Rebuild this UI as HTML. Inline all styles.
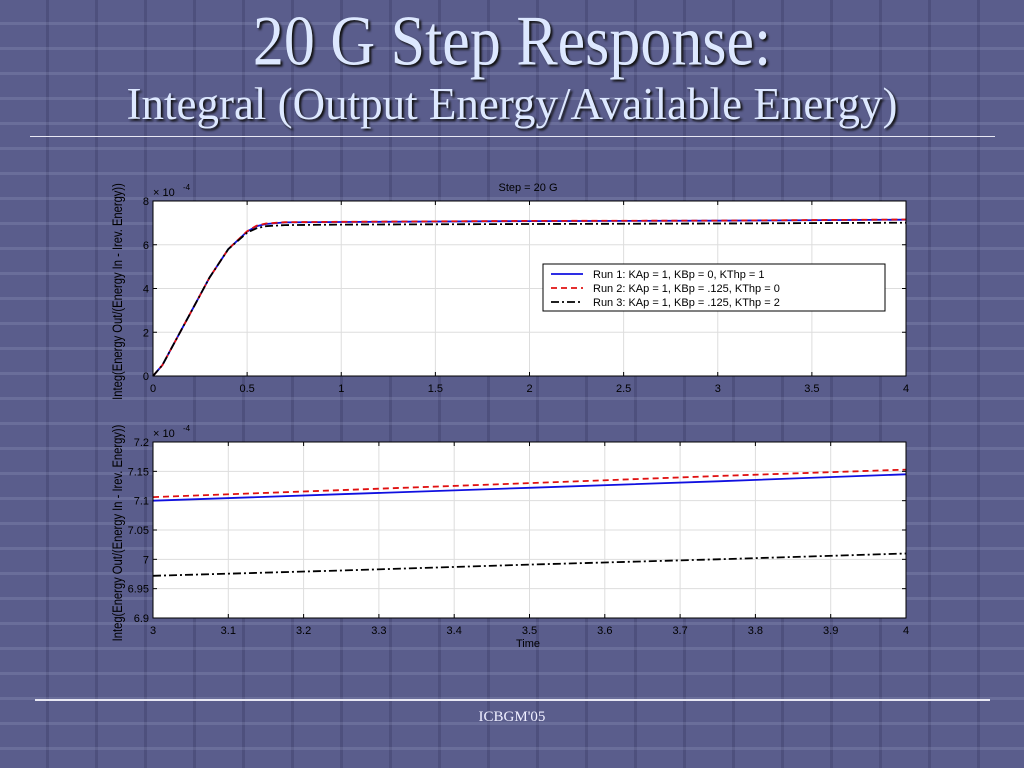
<!DOCTYPE html>
<html><head><meta charset="utf-8">
<style>
html,body{margin:0;padding:0}
body{width:1024px;height:768px;overflow:hidden;position:relative;
background:#5a5d8c;
font-family:"Liberation Sans",sans-serif}
.bg{position:absolute;inset:0;
background:
repeating-linear-gradient(180deg,rgba(255,255,255,0) 0 22px,rgba(180,185,220,0.18) 22px 25px),
repeating-linear-gradient(90deg,rgba(255,255,255,0) 0 46px,rgba(40,42,80,0.25) 46px 49px);}
.t1{position:absolute;left:0;width:1024px;top:0px;text-align:center;font-family:"Liberation Serif",serif;font-size:62px;line-height:72px;color:#dde8ff;text-shadow:2px 2px 2px #111;transform:scaleY(1.15);transform-origin:50% 0}
.t2{position:absolute;left:0;width:1024px;top:78px;text-align:center;font-family:"Liberation Serif",serif;font-size:45px;line-height:52px;color:#dde8ff;text-shadow:2px 2px 2px #111}
.rule{position:absolute;height:1px;background:#e8e8f4}
.foot{position:absolute;left:0;width:1024px;top:709px;text-align:center;font-family:"Liberation Serif",serif;font-size:15px;color:#eef}
svg{position:absolute;left:0;top:0}
</style></head><body>
<div class="bg"></div>
<div class="t1">20 G Step Response:</div>
<div class="t2">Integral (Output Energy/Available Energy)</div>
<div class="rule" style="left:30px;width:965px;top:136px"></div>
<div class="rule" style="left:35px;width:955px;top:699px;height:2px"></div>
<div class="foot">ICBGM'05</div>
<svg id="chart" width="1024" height="768"></svg>
<script>
const tTop=[0,0.05,0.1,0.2,0.3,0.4,0.5,0.55,0.6,0.7,1,2,3,4];
const run1Top=[0,0.5,1.3,2.9,4.5,5.8,6.6,6.85,6.95,7.02,7.04,7.08,7.1,7.145];
const run2Top=[0,0.5,1.3,2.9,4.5,5.8,6.62,6.87,6.97,7.03,7.05,7.09,7.106,7.153];
const run3Top=[0,0.5,1.3,2.9,4.5,5.8,6.55,6.75,6.85,6.9,6.92,6.95,6.972,7.01];
const tBot=[3,3.25,3.5,3.75,4];
const run1Bot=[7.100,7.111,7.122,7.133,7.145];
const run2Bot=[7.106,7.118,7.130,7.142,7.153];
const run3Bot=[6.972,6.981,6.991,7.000,7.010];
const xTicksTop=[0,0.5,1,1.5,2,2.5,3,3.5,4];
const yTicksTop=[0,2,4,6,8];
const xTicksBot=[3,3.1,3.2,3.3,3.4,3.5,3.6,3.7,3.8,3.9,4];
const yTicksBot=[6.9,6.95,7,7.05,7.1,7.15,7.2];
const legendLabels=["Run 1: KAp = 1, KBp = 0, KThp = 1","Run 2: KAp = 1, KBp = .125, KThp = 0","Run 3: KAp = 1, KBp = .125, KThp = 2"];

const NS="http://www.w3.org/2000/svg";
const svg=document.getElementById('chart');
function el(tag,attrs,parent){const e=document.createElementNS(NS,tag);for(const k in attrs)e.setAttribute(k,attrs[k]);(parent||svg).appendChild(e);return e;}
const styles=[{stroke:'#1010e0',dash:''},{stroke:'#e01010',dash:'6,4'},{stroke:'#000',dash:'8,3,2,3'}];

function panel(name,x0,x1,y0,y1,xmin,xmax,ymin,ymax,xt,yt,xtFmt,ytFmt,series,tArr){
  const sx=v=>x0+(v-xmin)/(xmax-xmin)*(x1-x0);
  const sy=v=>y1-(v-ymin)/(ymax-ymin)*(y1-y0);
  const g=el('g',{});
  
  
  const bg=el('rect',{x:x0,y:y0,width:x1-x0,height:y1-y0,fill:'#fff'},g);
  
  
  xt.forEach(v=>{
    el('line',{x1:sx(v),x2:sx(v),y1:y0,y2:y1,stroke:'#ddd','stroke-width':1},g);
    el('line',{x1:sx(v),x2:sx(v),y1:y1,y2:y1-4,stroke:'#000'},g);
    el('line',{x1:sx(v),x2:sx(v),y1:y0,y2:y0+4,stroke:'#000'},g);
    const t=el('text',{x:sx(v),y:y1+16,'text-anchor':'middle','font-size':11,fill:'#000'},g);
    t.textContent=xtFmt(v);
    
    
  });
  yt.forEach(v=>{
    el('line',{x1:x0,x2:x1,y1:sy(v),y2:sy(v),stroke:'#ddd','stroke-width':1},g);
    el('line',{x1:x0,x2:x0+4,y1:sy(v),y2:sy(v),stroke:'#000'},g);
    el('line',{x1:x1,x2:x1-4,y1:sy(v),y2:sy(v),stroke:'#000'},g);
    const t=el('text',{x:x0-4,y:sy(v)+4,'text-anchor':'end','font-size':11,fill:'#000'},g);
    t.textContent=ytFmt(v);
    
    
  });
  series.forEach((s,i)=>{
    const d=tArr.map((t,j)=>(j?'L':'M')+sx(t).toFixed(1)+','+sy(s[j]).toFixed(1)).join(' ');
    const p=el('path',{d:d,fill:'none',stroke:styles[i].stroke,'stroke-width':1.8,'stroke-dasharray':styles[i].dash},g);
    
    
  });
  el('rect',{x:x0,y:y0,width:x1-x0,height:y1-y0,fill:'none',stroke:'#000','stroke-width':1},g);
  const m=el('text',{x:x0,y:y0-5,'font-size':11,fill:'#000'},g);
  m.textContent='× 10';
  
  
  const e=el('text',{x:x0+30,y:y0-11,'font-size':8,fill:'#000'},g);
  e.textContent='-4';
  const yl=el('text',{transform:`translate(${x0-31},${(y0+y1)/2+3}) rotate(-90) scale(0.8,1)`,'text-anchor':'middle','font-size':14,fill:'#000'},g);
  yl.textContent='Integ(Energy Out/(Energy In - Irev. Energy))';
  
  
  return g;
}
panel('top-chart',153,906,201,376,0,4,0,8,xTicksTop,yTicksTop,v=>String(v),v=>String(v),[run1Top,run2Top,run3Top],tTop);
panel('bottom-chart',153,906,442,618,3,4,6.9,7.2,xTicksBot,yTicksBot,v=>String(+v.toFixed(1)),v=>String(+v.toFixed(2)),[run1Bot,run2Bot,run3Bot],tBot);

const title=el('text',{x:528,y:191,'text-anchor':'middle','font-size':11,fill:'#000'});
title.textContent='Step = 20 G';


const xl=el('text',{x:528,y:647,'text-anchor':'middle','font-size':11,fill:'#000'});
xl.textContent='Time';



const lg=el('g',{});


el('rect',{x:543,y:264,width:342,height:47,fill:'#fff',stroke:'#000'},lg);
legendLabels.forEach((lab,i)=>{
  const y=274+i*14;
  const ln=el('line',{x1:551,x2:583,y1:y,y2:y,stroke:styles[i].stroke,'stroke-width':1.8,'stroke-dasharray':styles[i].dash},lg);
  
  
  const t=el('text',{x:593,y:y+4,'font-size':11,fill:'#000'},lg);
  t.textContent=lab;
  
  
});
</script>
</body></html>
